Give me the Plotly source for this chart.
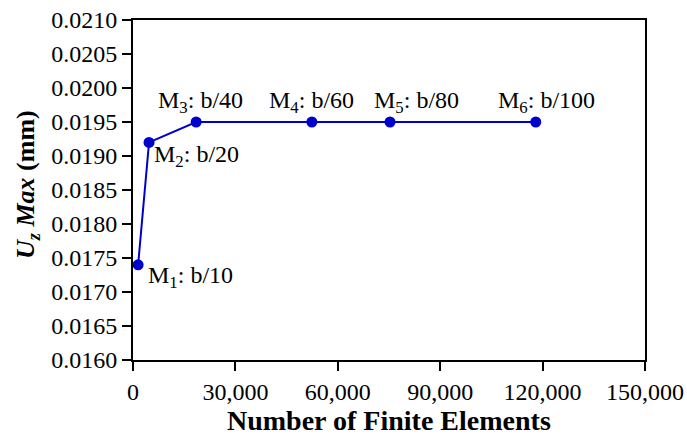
import plotly.graph_objects as go

# Data
mesh_labels = ["M<sub>1</sub>: b/10", "M<sub>2</sub>: b/20", "M<sub>3</sub>: b/40",
               "M<sub>4</sub>: b/60", "M<sub>5</sub>: b/80", "M<sub>6</sub>: b/100"]
num_elements = [1500, 4700, 18500, 52400, 75300, 118000]
uz_max = [0.0174, 0.0192, 0.0195, 0.0195, 0.0195, 0.0195]

x_ticks = [0, 30000, 60000, 90000, 120000, 150000]
y_ticks = [0.0160, 0.0165, 0.0170, 0.0175, 0.0180, 0.0185, 0.0190, 0.0195, 0.0200, 0.0205, 0.0210]

x_title = "<b>Number of Finite Elements</b>"
y_title = "<b><i>U</i><sub><i>z</i></sub> <i>Max</i> (mm)</b>"

FONT = "Liberation Serif"
BLUE = "#0000CC"

fig = go.Figure()
fig.add_trace(go.Scatter(
    x=num_elements, y=uz_max, mode="lines+markers",
    line=dict(color=BLUE, width=2),
    marker=dict(color=BLUE, size=11),
    showlegend=False, hoverinfo="skip",
))

# label placement styles: (xanchor, yanchor, xshift, yshift)
placements = [
    ("left", "middle", 8, -12),
    ("left", "middle", 3, -14),
    ("center", "bottom", 4, 3),
    ("center", "bottom", 0, 3),
    ("center", "bottom", 26, 3),
    ("center", "bottom", 11, 3),
]
for lbl, xv, yv, (xa, ya, xs, ys) in zip(mesh_labels, num_elements, uz_max, placements):
    fig.add_annotation(x=xv, y=yv, xref="x", yref="y", text=lbl, showarrow=False,
                       xanchor=xa, yanchor=ya, xshift=xs, yshift=ys,
                       font=dict(family=FONT, size=24, color="black"))

# axis titles as paper annotations for exact placement
fig.add_annotation(x=0.5, y=-0.177, xref="paper", yref="paper", text=x_title,
                   showarrow=False, xanchor="center", yanchor="middle",
                   font=dict(family=FONT, size=28, color="black"))
fig.add_annotation(x=-0.207, y=0.515, xref="paper", yref="paper", text=y_title,
                   showarrow=False, xanchor="center", yanchor="middle", textangle=-90,
                   font=dict(family=FONT, size=26, color="black"))

fig.update_layout(
    width=687, height=435,
    margin=dict(l=133, r=42, t=20, b=75),
    paper_bgcolor="white", plot_bgcolor="white",
    font=dict(family=FONT, size=24, color="black"),
)
fig.update_xaxes(
    range=[0, 150000], tickvals=x_ticks, tickformat=",d",
    showgrid=False, zeroline=False, automargin=False, ticklabeloverflow="allow",
    showline=True, linecolor="black", linewidth=2, mirror=True,
    ticks="outside", ticklen=9, tickwidth=2, tickcolor="black",
    ticklabelstandoff=0,
    tickfont=dict(family=FONT, size=24),
)
fig.update_yaxes(
    range=[0.0160, 0.0210], tickvals=y_ticks, tickformat=".4f",
    showgrid=False, zeroline=False, automargin=False,
    showline=True, linecolor="black", linewidth=2, mirror=True,
    ticks="outside", ticklen=9, tickwidth=2, tickcolor="black",
    tickfont=dict(family=FONT, size=24),
)

fig.write_html("out.html")
